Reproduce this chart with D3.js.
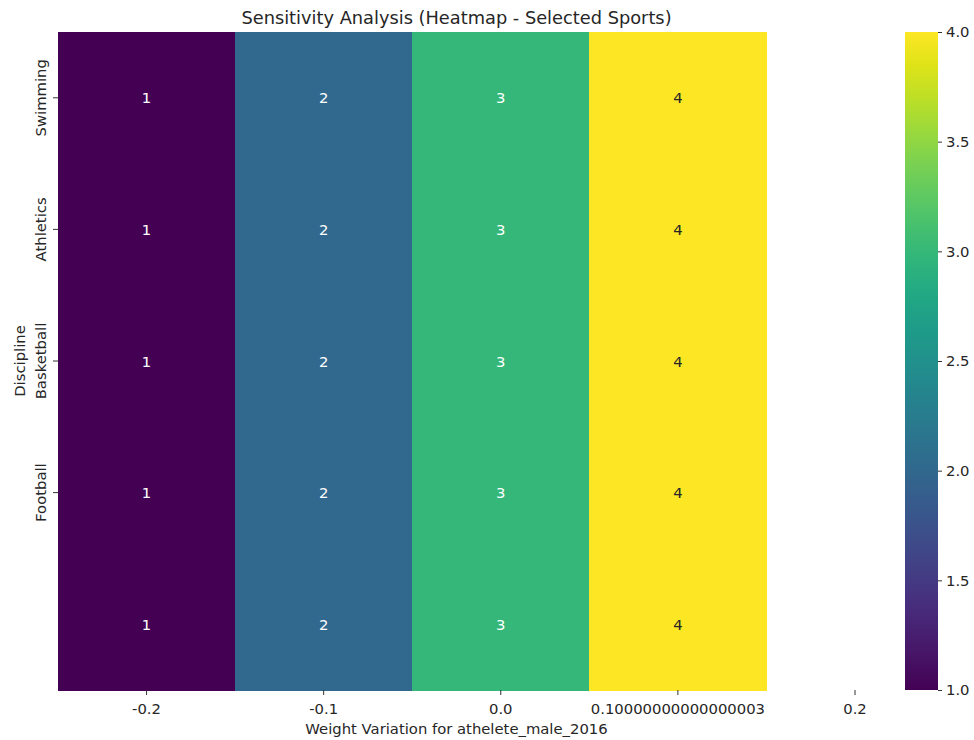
<!DOCTYPE html>
<html>
<head>
<meta charset="utf-8">
<script src="https://cdn.jsdelivr.net/npm/d3@7"></script>
<style>
  body { margin: 0; background: #fff; }
  svg { font-family: "DejaVu Sans", sans-serif; }
</style>
</head>
<body>
<svg id="chart" width="974" height="740"></svg>
<script>
const rowLabels = ["Swimming", "Athletics", "Basketball", "Football", ""];
const xTickLabels = ["-0.2", "-0.1", "0.0", "0.10000000000000003", "0.2"];
const colValues = [
  [1, 2, 3, 4],
  [1, 2, 3, 4],
  [1, 2, 3, 4],
  [1, 2, 3, 4],
  [1, 2, 3, 4]
];
const colorTicks = [1.0, 1.5, 2.0, 2.5, 3.0, 3.5, 4.0];
const title = "Sensitivity Analysis (Heatmap - Selected Sports)";
const xTitle = "Weight Variation for athelete_male_2016";
const yTitle = "Discipline";

const FS = 14.8;
const svg = d3.select("#chart");
const L = 58, R = 855, T = 32, B = 690;
const nCols = colValues[0].length, nRows = colValues.length;

// axes extends to include the last tick (x = 4.5 in cell units)
const x = d3.scaleLinear().domain([0, xTickLabels.length - 0.5]).range([L, R]);
const y = d3.scaleBand().domain(d3.range(nRows)).range([T, B]);
const color = d3.scaleSequential(d3.interpolateViridis).domain([1, 4]);

const cells = [];
colValues.forEach((row, r) => row.forEach((v, c) => cells.push({r, c, v})));

svg.append("g").attr("shape-rendering", "crispEdges")
  .selectAll("rect").data(cells).join("rect")
  .attr("x", d => x(d.c)).attr("y", d => y(d.r))
  .attr("width", x(1) - x(0) + 1).attr("height", y.bandwidth() + 1)
  .attr("fill", d => color(d.v));

svg.append("g").selectAll("text").data(cells).join("text")
  .attr("x", d => x(d.c + 0.5)).attr("y", d => y(d.r) + y.bandwidth() / 2)
  .attr("text-anchor", "middle").attr("dominant-baseline", "central")
  .attr("font-size", FS)
  .attr("fill", d => d.v >= 3.5 ? "#262626" : "#ffffff")
  .text(d => d.v);

// x axis ticks at column centers (5 ticks, last beyond the heatmap)
const xt = svg.append("g");
xTickLabels.forEach((lab, i) => {
  const px = x(i + 0.5);
  xt.append("line").attr("x1", px).attr("x2", px).attr("y1", B).attr("y2", B + 5)
    .attr("stroke", "#333").attr("stroke-width", 1);
  xt.append("text").attr("x", px).attr("y", 714).attr("text-anchor", "middle")
    .attr("font-size", FS).attr("fill", "#262626").text(lab);
});

// y axis ticks
const yt = svg.append("g");
rowLabels.forEach((lab, i) => {
  if (!lab) return;
  const py = y(i) + y.bandwidth() / 2;
  yt.append("line").attr("x1", L - 5).attr("x2", L).attr("y1", py).attr("y2", py)
    .attr("stroke", "#333").attr("stroke-width", 1);
  yt.append("text").attr("transform", `translate(${L - 12},${py}) rotate(-90)`)
    .attr("text-anchor", "middle").attr("font-size", FS).attr("fill", "#262626").text(lab);
});

svg.append("text").attr("x", (L + R) / 2).attr("y", 24).attr("text-anchor", "middle")
  .attr("font-size", 17.8).attr("fill", "#262626").text(title);
svg.append("text").attr("x", (L + R) / 2).attr("y", 734).attr("text-anchor", "middle")
  .attr("font-size", FS).attr("fill", "#262626").text(xTitle);
svg.append("text").attr("transform", `translate(25,${(T + B) / 2}) rotate(-90)`)
  .attr("text-anchor", "middle").attr("font-size", FS).attr("fill", "#262626").text(yTitle);

// colorbar
const cbX = 905, cbW = 33;
const cy = d3.scaleLinear().domain([1, 4]).range([B, T]);
const defs = svg.append("defs");
const grad = defs.append("linearGradient").attr("id", "cbg")
  .attr("x1", 0).attr("y1", 1).attr("x2", 0).attr("y2", 0);
d3.range(0, 1.0001, 0.05).forEach(t => {
  grad.append("stop").attr("offset", t).attr("stop-color", d3.interpolateViridis(t));
});
svg.append("rect").attr("x", cbX).attr("y", T).attr("width", cbW).attr("height", B - T)
  .attr("fill", "url(#cbg)");
const cbAxis = d3.axisRight(cy).tickValues(colorTicks).tickFormat(d3.format(".1f")).tickSize(4).tickPadding(4);
const cbg = svg.append("g").attr("transform", `translate(${cbX + cbW},0)`).call(cbAxis);
cbg.select(".domain").remove();
cbg.selectAll("text").attr("font-size", FS).attr("fill", "#262626").attr("font-family", "DejaVu Sans");
cbg.selectAll("line").attr("stroke", "#333");
</script>
</body>
</html>
